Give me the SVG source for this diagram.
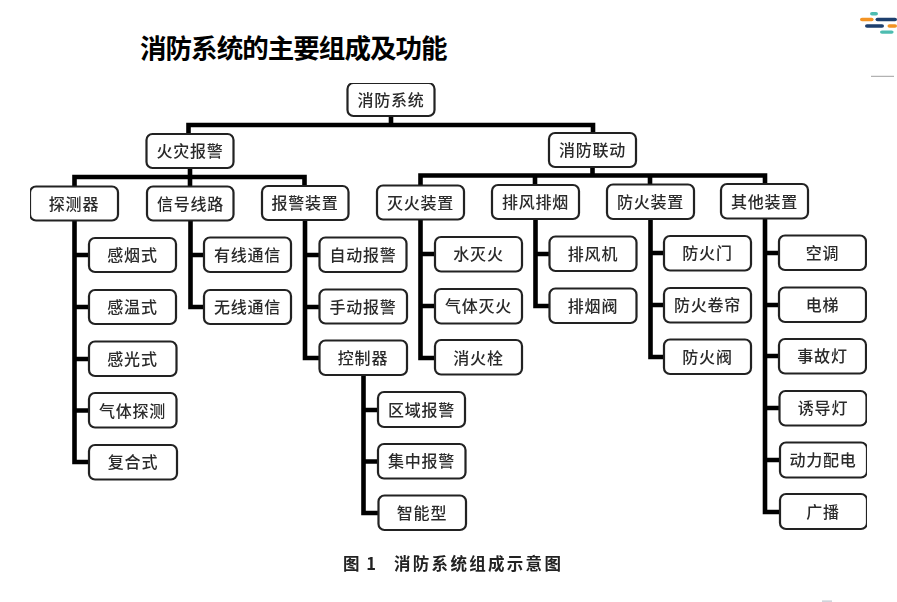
<svg xmlns="http://www.w3.org/2000/svg" width="897" height="602" viewBox="0 0 897 602">
<defs>
<style>
.n rect{fill:#fff;stroke:#222;stroke-width:2.2}
.n text{font:500 16px "Noto Sans CJK SC","Noto Sans",sans-serif;fill:#2a2a2a;text-anchor:middle;dominant-baseline:central;letter-spacing:.8px;transform:translateY(-1px)}
#connectors path{fill:none;stroke:#000;stroke-width:4.6;stroke-linejoin:miter}
.title{font:700 26.500px "Noto Sans CJK SC",sans-serif;fill:#000;letter-spacing:-.95px}
.cap{font:700 16.500px "Noto Sans CJK SC",sans-serif;fill:#222}
.logo rect{rx:2px}
</style>
<filter id="soft" x="0" y="0" width="100%" height="100%"><feGaussianBlur stdDeviation="0.35"/></filter>
</defs>
<rect width="897" height="602" fill="#fff"/>
<text class="title" x="140" y="58">消防系统的主要组成及功能</text>
<g class="logo">
<rect x="870" y="12" width="8" height="3.400" fill="#4dbcb0"/>
<rect x="860" y="17.800" width="13.600" height="3.400" fill="#f39323"/>
<rect x="875.500" y="17.800" width="21.500" height="3.400" fill="#1d3f6e"/>
<rect x="865" y="24.300" width="19" height="3.400" fill="#1d3f6e"/>
<rect x="887.500" y="24.300" width="9.500" height="3.400" fill="#f39323"/>
<rect x="880" y="30.400" width="13.600" height="3.400" fill="#4dbcb0"/>
</g>
<rect x="871" y="75.800" width="23" height="1" fill="#a0a0a0"/>
<rect x="822" y="600.600" width="10" height="1" fill="#b0b8c4"/>
<g filter="url(#soft)">
<g id="connectors">
<path d="M391 116V125M188.500 134V125H593V133"/>
<path d="M190 168V186.500M74.500 186.500V177H304.500V186M420.500 185V175.500H765V184M592.500 167V175M535 175.500V185M650 175.500V184.500"/>
<path d="M74.500 220V462H89M74.500 255H89M74.500 307H89M74.500 359H89M74.500 410.500H89"/>
<path d="M190.500 220V307H204M190.500 255H204"/>
<path d="M305 220V358H320M305 255H320M305 307H320"/>
<path d="M363.500 375V513H379M363.500 410H378M363.500 461.500H378"/>
<path d="M420.500 219V358H435M420.500 254H435M420.500 306H435"/>
<path d="M535.500 219V306H550M535.500 254H550"/>
<path d="M650.500 219V357H664M650.500 253H664M650.500 305H664"/>
<path d="M765 218V512H780M765 253H779M765 305H779M765 356H779M765 408H780M765 460H780"/>
</g>
<g id="n-root" class="n"><rect x="347.500" y="83" width="87" height="33" rx="6"/><text x="391" y="99.500">消防系统</text></g>
<g id="n-alarm" class="n"><rect x="146.500" y="134" width="87" height="34" rx="6"/><text x="190" y="151">火灾报警</text></g>
<g id="n-link" class="n"><rect x="549" y="133" width="87" height="34" rx="6"/><text x="592.500" y="150">消防联动</text></g>
<g id="n-detect" class="n"><rect x="30" y="186.500" width="88" height="34" rx="6"/><text x="74" y="203.500">探测器</text></g>
<g id="n-signal" class="n"><rect x="147" y="186.500" width="86.500" height="34" rx="6"/><text x="190.500" y="203.500">信号线路</text></g>
<g id="n-device" class="n"><rect x="262" y="186" width="86.500" height="34" rx="6"/><text x="305" y="203">报警装置</text></g>
<g id="n-ext" class="n"><rect x="377" y="185.500" width="87" height="34" rx="6"/><text x="420.500" y="202.500">灭火装置</text></g>
<g id="n-smoke" class="n"><rect x="492" y="185" width="87" height="34" rx="6"/><text x="535.500" y="202">排风排烟</text></g>
<g id="n-fireproof" class="n"><rect x="607" y="184.500" width="87" height="34.500" rx="6"/><text x="650.500" y="202">防火装置</text></g>
<g id="n-other" class="n"><rect x="721" y="184" width="87" height="34.500" rx="6"/><text x="764.500" y="201.500">其他装置</text></g>
<g id="n1" class="n"><rect x="89" y="238" width="87" height="34" rx="6"/><text x="132.500" y="255">感烟式</text></g>
<g id="n2" class="n"><rect x="89" y="290" width="87" height="34" rx="6"/><text x="132.500" y="307">感温式</text></g>
<g id="n3" class="n"><rect x="89" y="341.500" width="87.500" height="34.500" rx="6"/><text x="132.500" y="359">感光式</text></g>
<g id="n4" class="n"><rect x="89" y="393" width="87.500" height="34.500" rx="6"/><text x="132.500" y="410.500">气体探测</text></g>
<g id="n5" class="n"><rect x="89" y="445" width="88" height="34.500" rx="6"/><text x="133" y="462">复合式</text></g>
<g id="n6" class="n"><rect x="204" y="237.500" width="87" height="34.500" rx="6"/><text x="247.500" y="255">有线通信</text></g>
<g id="n7" class="n"><rect x="204" y="290" width="87" height="34" rx="6"/><text x="247.500" y="307">无线通信</text></g>
<g id="n8" class="n"><rect x="319.500" y="237.500" width="87" height="34.500" rx="6"/><text x="363" y="254.500">自动报警</text></g>
<g id="n9" class="n"><rect x="319.500" y="289.500" width="87.500" height="34" rx="6"/><text x="363" y="306.500">手动报警</text></g>
<g id="n10" class="n"><rect x="319.500" y="340.500" width="87.500" height="34.500" rx="6"/><text x="363" y="358">控制器</text></g>
<g id="n11" class="n"><rect x="378" y="392" width="87" height="35" rx="6"/><text x="421.500" y="409.500">区域报警</text></g>
<g id="n12" class="n"><rect x="378" y="444" width="87.500" height="34.500" rx="6"/><text x="421.500" y="461">集中报警</text></g>
<g id="n13" class="n"><rect x="378.500" y="495.500" width="87.500" height="34.500" rx="6"/><text x="422" y="513">智能型</text></g>
<g id="n14" class="n"><rect x="435" y="237" width="87" height="34.500" rx="6"/><text x="478.500" y="254">水灭火</text></g>
<g id="n15" class="n"><rect x="435" y="289" width="87" height="34.500" rx="6"/><text x="478.500" y="306">气体灭火</text></g>
<g id="n16" class="n"><rect x="435" y="340" width="87" height="34.500" rx="6"/><text x="478.500" y="357.500">消火栓</text></g>
<g id="n17" class="n"><rect x="549.500" y="236.500" width="87" height="34.500" rx="6"/><text x="593" y="254">排风机</text></g>
<g id="n18" class="n"><rect x="549.500" y="288.500" width="87" height="34.500" rx="6"/><text x="593" y="305.500">排烟阀</text></g>
<g id="n19" class="n"><rect x="664" y="236" width="87" height="34.500" rx="6"/><text x="707.500" y="253">防火门</text></g>
<g id="n20" class="n"><rect x="664" y="288" width="87" height="34.500" rx="6"/><text x="707.500" y="305">防火卷帘</text></g>
<g id="n21" class="n"><rect x="664" y="339.500" width="87" height="34.500" rx="6"/><text x="707.500" y="357">防火阀</text></g>
<g id="n22" class="n"><rect x="779" y="235.500" width="87" height="34.500" rx="6"/><text x="822.500" y="253">空调</text></g>
<g id="n23" class="n"><rect x="779" y="287.500" width="87" height="34.500" rx="6"/><text x="822.500" y="305">电梯</text></g>
<g id="n24" class="n"><rect x="779" y="339" width="87" height="34.500" rx="6"/><text x="822.500" y="356">事故灯</text></g>
<g id="n25" class="n"><rect x="779.500" y="391" width="87" height="34.500" rx="6"/><text x="823" y="408">诱导灯</text></g>
<g id="n26" class="n"><rect x="780" y="442.500" width="87" height="35" rx="6"/><text x="823" y="460">动力配电</text></g>
<g id="n27" class="n"><rect x="780" y="494" width="87" height="35" rx="6"/><text x="823" y="511.500">广播</text></g>
<text class="cap" x="343" y="570" letter-spacing="1.500">图 1</text>
<text class="cap" x="394" y="570" letter-spacing="2.300">消防系统组成示意图</text>
</g>
</svg>
